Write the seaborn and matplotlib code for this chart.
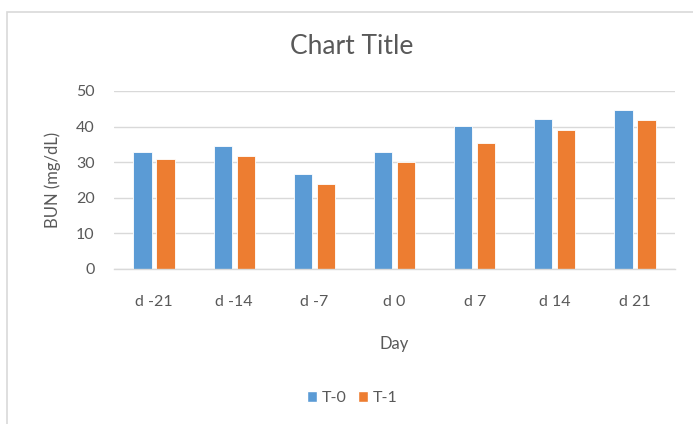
import seaborn as sns
import matplotlib.pyplot as plt
import matplotlib
import pandas as pd
from matplotlib.patches import Rectangle, Patch

days = ["d -21", "d -14", "d -7", "d 0", "d 7", "d 14", "d 21"]
t0_values = [32.8, 34.6, 26.7, 33.0, 40.2, 42.0, 44.8]
t1_values = [30.9, 31.8, 23.9, 30.1, 35.5, 39.1, 41.9]
series_names = ["T-0", "T-1"]
y_ticks = [0, 10, 20, 30, 40, 50]

color_dict = {"T-0": "#5B9BD5", "T-1": "#ED7D31"}
text_color = "#595959"
grid_color = "#D9D9D9"

df = pd.DataFrame({"Day": days * 2,
                   "BUN": t0_values + t1_values,
                   "series": [series_names[0]] * len(days) + [series_names[1]] * len(days)})

sns.set_style("white")
matplotlib.rcParams['font.family'] = ["Lato", "DejaVu Sans"]

fig = plt.figure(figsize=(6.93, 4.24), dpi=100)
ax = fig.add_axes([114 / 693, 1 - 269 / 424, (675 - 114) / 693, (269 - 91) / 424])

sns.barplot(ax=ax, data=df, x="Day", y="BUN", hue="series",
            hue_order=series_names, palette=color_dict,
            width=0.574, gap=0.2, edgecolor="white", linewidth=0.6,
            legend=False, saturation=1)

ax.set_ylim(0, 50)
ax.set_xlim(-0.5, len(days) - 0.5)
ax.set_yticks(y_ticks)
ax.yaxis.grid(True, color=grid_color, linewidth=1)
ax.set_axisbelow(True)
for s in ["top", "right", "left"]:
    ax.spines[s].set_visible(False)
ax.spines["bottom"].set_color(grid_color)
ax.spines["bottom"].set_linewidth(1)
ax.tick_params(axis="both", length=0, colors=text_color, labelsize=11.5)
ax.tick_params(axis="x", pad=19)
ax.tick_params(axis="y", pad=14)

ax.set_xlabel("Day", color=text_color, fontsize=12, labelpad=19)
ax.set_ylabel("BUN (mg/dL)", color=text_color, fontsize=12, labelpad=11)
fig.text(352 / 693, 1 - 47 / 424, "Chart Title", ha="center", va="center",
         fontsize=19, color=text_color)

handles = [Patch(facecolor=color_dict[n], label=n) for n in series_names]
fig.legend(handles=handles, loc="center", bbox_to_anchor=(352 / 693, 1 - 398 / 424),
           ncol=2, frameon=False, fontsize=11.5, labelcolor=text_color,
           handlelength=0.62, handleheight=0.62, handletextpad=0.3, columnspacing=0.7)

fig.patches.append(Rectangle((7 / 693, -0.1), 1.2, 1 - 12 / 424 + 0.1,
                             transform=fig.transFigure, fill=False,
                             edgecolor=grid_color, linewidth=1.2))

plt.savefig("out.png", dpi=100)
plt.close("all")
